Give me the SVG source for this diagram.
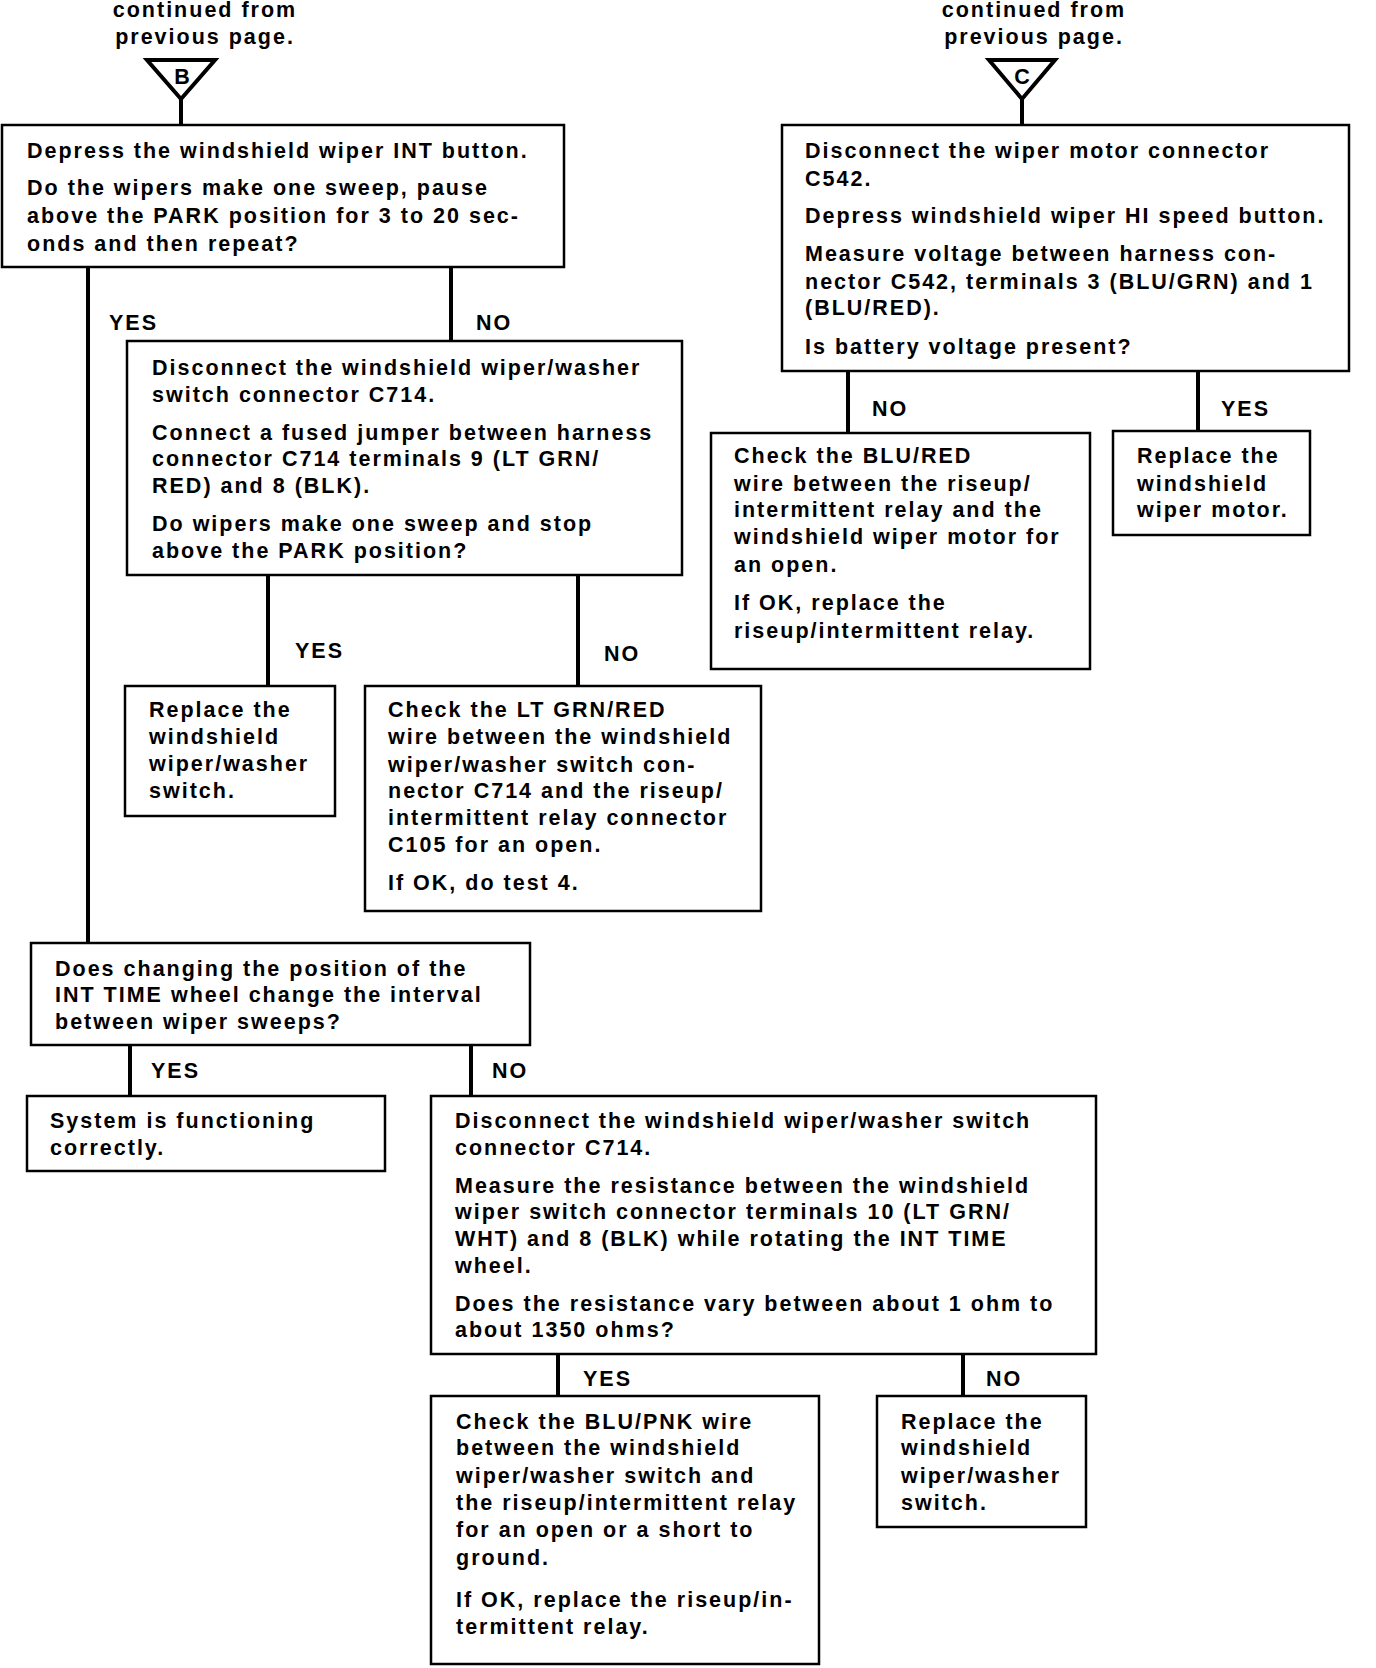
<svg xmlns="http://www.w3.org/2000/svg" width="1376" height="1668" viewBox="0 0 1376 1668">
<style>
text{font-family:"Liberation Sans",Arial,sans-serif;font-weight:bold;font-size:21.5px;letter-spacing:2px;fill:#000}
.box{fill:#fff;stroke:#000;stroke-width:2.5}
.tri{fill:#fff;stroke:#000;stroke-width:4;stroke-linejoin:miter}
.c{stroke:#000;stroke-width:4;fill:none}
.m{text-anchor:middle}
</style>
<rect width="1376" height="1668" fill="#fff"/>
<g id="connectors">
<line class="c" x1="181" y1="99" x2="181" y2="125"/>
<line class="c" x1="1022" y1="99" x2="1022" y2="125"/>
<line class="c" x1="88" y1="267" x2="88" y2="943"/>
<line class="c" x1="451" y1="267" x2="451" y2="341"/>
<line class="c" x1="268" y1="575" x2="268" y2="686"/>
<line class="c" x1="578" y1="575" x2="578" y2="686"/>
<line class="c" x1="130" y1="1045" x2="130" y2="1096"/>
<line class="c" x1="471" y1="1045" x2="471" y2="1096"/>
<line class="c" x1="558" y1="1354" x2="558" y2="1396"/>
<line class="c" x1="963" y1="1354" x2="963" y2="1396"/>
<line class="c" x1="848" y1="371" x2="848" y2="433"/>
<line class="c" x1="1198" y1="371" x2="1198" y2="431"/>
<text x="109" y="330">YES</text>
<text x="476" y="330">NO</text>
<text x="295" y="658">YES</text>
<text x="604" y="661">NO</text>
<text x="151" y="1078">YES</text>
<text x="492" y="1078">NO</text>
<text x="583" y="1386">YES</text>
<text x="986" y="1386">NO</text>
<text x="872" y="416">NO</text>
<text x="1221" y="416">YES</text>
</g>
<g id="start-B">
<text class="m" x="205" y="17">continued from</text>
<text class="m" x="205" y="44">previous page.</text>
<polygon class="tri" points="147,60 215,60 181,99"/>
<text class="m" x="182" y="84" style="letter-spacing:0">B</text>
</g>
<g id="start-C">
<text class="m" x="1034" y="17">continued from</text>
<text class="m" x="1034" y="44">previous page.</text>
<polygon class="tri" points="989,60 1055,60 1022,99"/>
<text class="m" x="1022" y="84" style="letter-spacing:0">C</text>
</g>
<g id="n1">
<rect class="box" x="2" y="125" width="562" height="142"/>
<text x="27" y="158">Depress the windshield wiper INT button.</text>
<text x="27" y="195">Do the wipers make one sweep, pause</text>
<text x="27" y="223">above the PARK position for 3 to 20 sec-</text>
<text x="27" y="251">onds and then repeat?</text>
</g>
<g id="n2">
<rect class="box" x="127" y="341" width="555" height="234"/>
<text x="152" y="375">Disconnect the windshield wiper/washer</text>
<text x="152" y="402">switch connector C714.</text>
<text x="152" y="440">Connect a fused jumper between harness</text>
<text x="152" y="466">connector C714 terminals 9 (LT GRN/</text>
<text x="152" y="493">RED) and 8 (BLK).</text>
<text x="152" y="531">Do wipers make one sweep and stop</text>
<text x="152" y="558">above the PARK position?</text>
</g>
<g id="n3">
<rect class="box" x="125" y="686" width="210" height="130"/>
<text x="149" y="717">Replace the</text>
<text x="149" y="744">windshield</text>
<text x="149" y="771">wiper/washer</text>
<text x="149" y="798">switch.</text>
</g>
<g id="n4">
<rect class="box" x="365" y="686" width="396" height="225"/>
<text x="388" y="717">Check the LT GRN/RED</text>
<text x="388" y="744">wire between the windshield</text>
<text x="388" y="772">wiper/washer switch con-</text>
<text x="388" y="798">nector C714 and the riseup/</text>
<text x="388" y="825">intermittent relay connector</text>
<text x="388" y="852">C105 for an open.</text>
<text x="388" y="890">If OK, do test 4.</text>
</g>
<g id="n5">
<rect class="box" x="31" y="943" width="499" height="102"/>
<text x="55" y="976">Does changing the position of the</text>
<text x="55" y="1002">INT TIME wheel change the interval</text>
<text x="55" y="1029">between wiper sweeps?</text>
</g>
<g id="n6">
<rect class="box" x="27" y="1096" width="358" height="75"/>
<text x="50" y="1128">System is functioning</text>
<text x="50" y="1155">correctly.</text>
</g>
<g id="n7">
<rect class="box" x="431" y="1096" width="665" height="258"/>
<text x="455" y="1128">Disconnect the windshield wiper/washer switch</text>
<text x="455" y="1155">connector C714.</text>
<text x="455" y="1193">Measure the resistance between the windshield</text>
<text x="455" y="1219">wiper switch connector terminals 10 (LT GRN/</text>
<text x="455" y="1246">WHT) and 8 (BLK) while rotating the INT TIME</text>
<text x="455" y="1273">wheel.</text>
<text x="455" y="1311">Does the resistance vary between about 1 ohm to</text>
<text x="455" y="1337">about 1350 ohms?</text>
</g>
<g id="n8">
<rect class="box" x="431" y="1396" width="388" height="268"/>
<text x="456" y="1429">Check the BLU/PNK wire</text>
<text x="456" y="1455">between the windshield</text>
<text x="456" y="1483">wiper/washer switch and</text>
<text x="456" y="1510">the riseup/intermittent relay</text>
<text x="456" y="1537">for an open or a short to</text>
<text x="456" y="1565">ground.</text>
<text x="456" y="1607">If OK, replace the riseup/in-</text>
<text x="456" y="1634">termittent relay.</text>
</g>
<g id="n9">
<rect class="box" x="877" y="1396" width="209" height="131"/>
<text x="901" y="1429">Replace the</text>
<text x="901" y="1455">windshield</text>
<text x="901" y="1483">wiper/washer</text>
<text x="901" y="1510">switch.</text>
</g>
<g id="n10">
<rect class="box" x="782" y="125" width="567" height="246"/>
<text x="805" y="158">Disconnect the wiper motor connector</text>
<text x="805" y="186">C542.</text>
<text x="805" y="223">Depress windshield wiper HI speed button.</text>
<text x="805" y="261">Measure voltage between harness con-</text>
<text x="805" y="289">nector C542, terminals 3 (BLU/GRN) and 1</text>
<text x="805" y="315">(BLU/RED).</text>
<text x="805" y="354">Is battery voltage present?</text>
</g>
<g id="n11">
<rect class="box" x="711" y="433" width="379" height="236"/>
<text x="734" y="463">Check the BLU/RED</text>
<text x="734" y="491">wire between the riseup/</text>
<text x="734" y="517">intermittent relay and the</text>
<text x="734" y="544">windshield wiper motor for</text>
<text x="734" y="572">an open.</text>
<text x="734" y="610">If OK, replace the</text>
<text x="734" y="638">riseup/intermittent relay.</text>
</g>
<g id="n12">
<rect class="box" x="1113" y="431" width="197" height="104"/>
<text x="1137" y="463">Replace the</text>
<text x="1137" y="491">windshield</text>
<text x="1137" y="517">wiper motor.</text>
</g>
</svg>
